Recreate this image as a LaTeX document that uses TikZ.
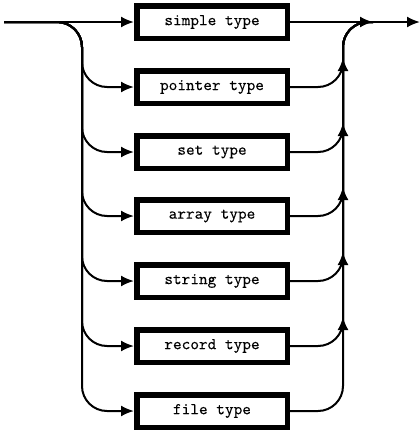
\documentclass[tikz,border=0pt]{standalone}
\usepackage{fontspec}
\newfontfamily\boxfont[FakeBold=0.12]{lmmono10-regular.otf}
\usetikzlibrary{arrows.meta}
\begin{document}
\begin{tikzpicture}[x=1pt,y=-1pt,
  typebox/.style={draw, line width=5.5pt, minimum width=150.5pt, minimum height=32.5pt,
    inner sep=0pt, font=\fontsize{16.5}{18}\boxfont},
  wire/.style={line width=2pt},
  tip/.style={-{Latex[length=13pt,width=11pt]}},
  curvy/.style={rounded corners=25pt}]
\useasboundingbox (0,0) rectangle (420,432);

% the seven alternatives
\node[typebox] (b1) at (212,22)  {simple type};
\node[typebox] (b2) at (212,87)  {pointer type};
\node[typebox] (b3) at (212,152) {set type};
\node[typebox] (b4) at (212,216) {array type};
\node[typebox] (b5) at (212,281) {string type};
\node[typebox] (b6) at (212,346) {record type};
\node[typebox] (b7) at (212,411) {file type};

% entry, merge point and exit
\coordinate (in)    at (4,22);
\coordinate (merge) at (373,22);
\coordinate (out)   at (420,22);

% entry to the first box
\draw[wire,tip] (in) -- (b1.west);

% left bus: branches into the other boxes
\foreach \k/\yy in {2/87,3/152,4/216,5/281,6/346,7/411}
  \draw[wire,curvy,tip] (in) -| (82,\yy) -- (b\k.west);

% right bus: branches back up to the main line
\foreach \k/\yy in {2/87,3/152,4/216,5/281,6/346,7/411}
  \draw[wire,curvy] (b\k.east) -| (343,22) -- (merge);

% upward arrowheads on the right bus
\foreach \yy in {87,152,216,281,346}
  \draw[wire,tip] (343,\yy-15) -- (343,\yy-29);

% main line to the exit
\draw[wire,tip] (b1.east) -- (merge);
\draw[wire,tip] (merge) -- (out);
\end{tikzpicture}
\end{document}
